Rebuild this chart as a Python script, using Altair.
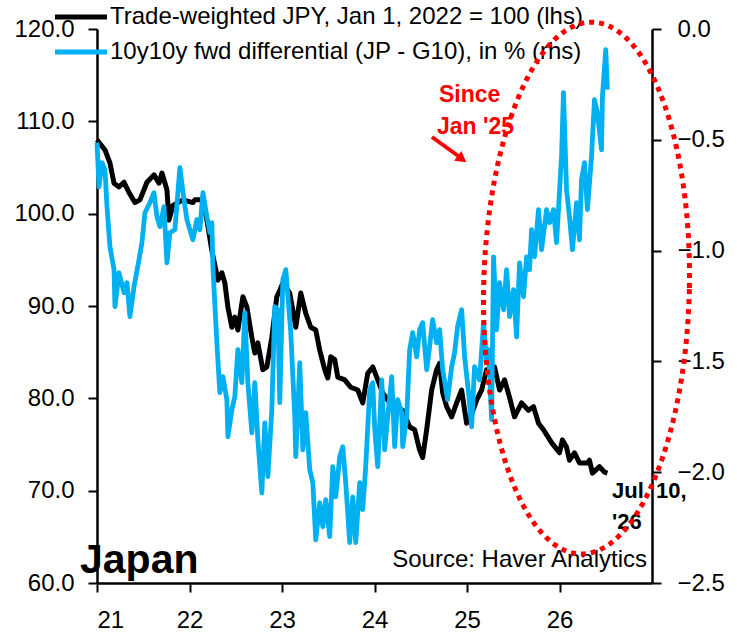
import altair as alt
import numpy as np
import pandas as pd

# Trade-weighted JPY (Jan 1, 2022 = 100), decimal-year dates
jpy_t = [
    2021.000, 2021.086, 2021.140, 2021.184, 2021.238, 2021.292, 2021.346, 2021.410,
    2021.464, 2021.540, 2021.616, 2021.670, 2021.702, 2021.756, 2021.778, 2021.821,
    2021.929, 2022.037, 2022.058, 2022.145, 2022.188, 2022.242, 2022.307, 2022.350,
    2022.382, 2022.415, 2022.458, 2022.490, 2022.523, 2022.577, 2022.620, 2022.674,
    2022.706, 2022.739, 2022.793, 2022.836, 2022.890, 2022.944, 2022.977, 2023.009,
    2023.084, 2023.149, 2023.203, 2023.257, 2023.311, 2023.365, 2023.408, 2023.462,
    2023.495, 2023.527, 2023.570, 2023.603, 2023.678, 2023.743, 2023.819, 2023.873,
    2023.927, 2023.981, 2024.035, 2024.089, 2024.164, 2024.240, 2024.305, 2024.380,
    2024.434, 2024.488, 2024.521, 2024.564, 2024.618, 2024.672, 2024.704, 2024.737,
    2024.780, 2024.834, 2024.888, 2024.942, 2024.996, 2025.028, 2025.104, 2025.158,
    2025.212, 2025.266, 2025.298, 2025.352, 2025.406, 2025.460, 2025.514, 2025.590,
    2025.665, 2025.719, 2025.773, 2025.827, 2025.914, 2026.000, 2026.032, 2026.076,
    2026.108, 2026.162, 2026.216, 2026.302, 2026.324, 2026.356, 2026.432, 2026.486,
    2026.518,
]
jpy_v = [
    108.0, 106.9, 105.5, 103.3, 102.9, 103.4, 102.3, 101.2,
    101.5, 103.4, 104.2, 103.3, 104.4, 102.6, 99.3, 100.9,
    101.5, 101.2, 101.5, 101.5, 99.3, 96.0, 92.8, 93.6,
    92.5, 89.9, 87.7, 88.8, 87.4, 91.0, 89.9, 86.6,
    84.9, 86.0, 83.1, 83.4, 86.6, 91.0, 91.7, 92.5,
    91.4, 87.7, 91.4, 89.2, 87.7, 87.4, 85.2, 83.1,
    82.2, 84.5, 84.2, 82.3, 82.0, 81.2, 80.9, 79.5,
    82.7, 83.4, 82.0, 80.6, 79.5, 79.1, 78.7, 76.9,
    76.6, 74.4, 73.6, 76.6, 80.9, 83.1, 83.8, 80.6,
    79.1, 78.0, 79.5, 80.9, 77.3, 77.7, 79.8, 80.9,
    83.1, 82.3, 83.4, 80.9, 82.0, 80.1, 78.0, 79.5,
    78.7, 79.1, 77.3, 76.6, 75.2, 74.1, 75.5, 74.7,
    73.3, 74.1, 73.0, 73.0, 73.3, 71.9, 72.6, 72.0,
    71.9,
]

# 10y10y forward differential, JP minus G10, in %
fwd_t = [
    2021.000, 2021.022, 2021.054, 2021.086, 2021.108, 2021.140, 2021.184, 2021.194,
    2021.238, 2021.292, 2021.324, 2021.356, 2021.400, 2021.454, 2021.486, 2021.518,
    2021.572, 2021.616, 2021.648, 2021.680, 2021.724, 2021.756, 2021.788, 2021.842,
    2021.896, 2021.940, 2021.972, 2022.004, 2022.037, 2022.080, 2022.112, 2022.145,
    2022.188, 2022.220, 2022.242, 2022.253, 2022.296, 2022.328, 2022.361, 2022.404,
    2022.415, 2022.458, 2022.490, 2022.523, 2022.566, 2022.598, 2022.631, 2022.674,
    2022.706, 2022.739, 2022.782, 2022.814, 2022.847, 2022.890, 2022.922, 2022.955,
    2022.976, 2023.009, 2023.041, 2023.095, 2023.138, 2023.149, 2023.192, 2023.225,
    2023.257, 2023.300, 2023.333, 2023.365, 2023.408, 2023.441, 2023.473, 2023.516,
    2023.549, 2023.581, 2023.624, 2023.657, 2023.689, 2023.732, 2023.765, 2023.797,
    2023.840, 2023.873, 2023.905, 2023.948, 2023.981, 2024.003, 2024.035, 2024.078,
    2024.110, 2024.143, 2024.186, 2024.218, 2024.251, 2024.294, 2024.305, 2024.348,
    2024.380, 2024.413, 2024.456, 2024.488, 2024.521, 2024.564, 2024.596, 2024.628,
    2024.672, 2024.704, 2024.737, 2024.790, 2024.834, 2024.866, 2024.898, 2024.942,
    2024.974, 2025.017, 2025.050, 2025.082, 2025.136, 2025.179, 2025.212, 2025.233,
    2025.266, 2025.287, 2025.320, 2025.352, 2025.395, 2025.428, 2025.460, 2025.503,
    2025.536, 2025.568, 2025.611, 2025.644, 2025.676, 2025.698, 2025.730, 2025.773,
    2025.806, 2025.860, 2025.892, 2025.935, 2025.968, 2026.022, 2026.043, 2026.076,
    2026.108, 2026.140, 2026.184, 2026.216, 2026.238, 2026.270, 2026.302, 2026.346,
    2026.378, 2026.410, 2026.454, 2026.464, 2026.500, 2026.518,
]
fwd_v = [
    -0.513, -0.712, -0.603, -0.635, -0.802, -0.982, -1.086, -1.253,
    -1.100, -1.190, -1.145, -1.298, -1.163, -1.041, -0.964, -0.829,
    -0.784, -0.739, -0.847, -0.892, -0.802, -1.055, -0.919, -0.906,
    -0.626, -0.770, -0.860, -0.906, -0.951, -0.860, -0.906, -0.739,
    -0.847, -0.919, -0.874, -1.073, -1.416, -1.641, -1.569, -1.673,
    -1.840, -1.718, -1.659, -1.447, -1.596, -1.280, -1.596, -1.822,
    -1.596, -1.853, -2.093, -1.777, -2.020, -1.718, -1.253, -1.267,
    -1.686, -1.131, -1.086, -1.370, -1.750, -1.930, -1.506, -1.899,
    -1.731, -1.989, -2.047, -2.305, -2.138, -2.246, -2.124, -2.291,
    -1.975, -2.111, -1.930, -1.885, -2.047, -2.318, -2.111, -2.318,
    -2.047, -2.169, -1.975, -1.628, -1.596, -1.808, -1.975, -1.583,
    -1.899, -1.750, -1.569, -1.885, -1.673, -1.731, -1.885, -1.750,
    -1.447, -1.370, -1.479, -1.357, -1.325, -1.537, -1.433, -1.312,
    -1.416, -1.357, -1.537, -1.673, -1.524, -1.461, -1.343, -1.267,
    -1.479, -1.641, -1.795, -1.524, -1.583, -1.325, -1.506, -1.447,
    -1.763, -1.028, -1.357, -1.145, -1.267, -1.086, -1.298, -1.176,
    -1.389, -1.055, -1.208, -1.028, -1.086, -0.906, -1.028, -0.815,
    -0.996, -0.815, -0.874, -0.815, -0.964, -0.576, -0.287, -0.725,
    -0.847, -0.996, -0.784, -0.951, -0.680, -0.603, -0.815, -0.576,
    -0.319, -0.378, -0.545, -0.306, -0.093, -0.274,
]

x_ticks = [2021, 2022, 2023, 2024, 2025, 2026]
left_ticks = [60, 70, 80, 90, 100, 110, 120]
right_ticks = [-2.5, -2.0, -1.5, -1.0, -0.5, 0.0]
legend_labels = [
    "Trade-weighted JPY, Jan 1, 2022 = 100 (lhs)",
    "10y10y fwd differential (JP - G10), in % (rhs)",
]

FONT = "Liberation Sans"
BLACK = "#000000"
BLUE = "#00B0F0"
RED = "#FF0000"

jpy = pd.DataFrame({"t": jpy_t, "v": jpy_v})
fwd = pd.DataFrame({"t": fwd_t, "v": fwd_v})

x_scale = alt.Scale(domain=[2021, 2027], nice=False, zero=False)
x_axis = alt.Axis(
    values=x_ticks, labelExpr="format(datum.value - 2000, 'd')", title=None,
    grid=False, labelPadding=16,
)
left_scale = alt.Scale(domain=[60, 120], nice=False, zero=False)
right_scale = alt.Scale(domain=[-2.5, 0.0], nice=False, zero=False)
left_axis = alt.Axis(orient="left", values=left_ticks, format=".1f", title=None,
                     grid=False, labelPadding=14)
right_axis = alt.Axis(orient="right", values=right_ticks, format=".1f", title=None,
                      grid=False, labelPadding=16)

jpy_line = alt.Chart(jpy).mark_line(
    color=BLACK, strokeWidth=5, strokeJoin="round", clip=False
).encode(
    x=alt.X("t:Q", scale=x_scale, axis=x_axis),
    y=alt.Y("v:Q", scale=left_scale, axis=left_axis),
)

fwd_line = alt.Chart(fwd).mark_line(
    color=BLUE, strokeWidth=4.8, strokeJoin="round", clip=False
).encode(
    x=alt.X("t:Q", scale=x_scale, axis=x_axis),
    y=alt.Y("v:Q", scale=right_scale, axis=right_axis),
)

# dotted red ellipse highlighting the period since Jan 2025 (rhs units)
theta = np.linspace(0, 2 * np.pi, 361)
ell = pd.DataFrame({
    "t": 2026.292 + 1.112 * np.cos(theta) + 0.054 * np.sin(theta),
    "v": -1.169 + 1.2 * np.sin(theta),
    "i": np.arange(len(theta)),
})
ellipse = alt.Chart(ell).mark_line(
    color=RED, strokeWidth=5, strokeDash=[5, 5], strokeCap="butt", clip=False
).encode(
    x=alt.X("t:Q", scale=x_scale, axis=x_axis),
    y=alt.Y("v:Q", scale=right_scale, axis=right_axis),
    order="i:Q",
)

one = pd.DataFrame({"k": [0]})


def label(text, x, y, size=24, color=BLACK, bold=False, align="left", baseline="middle"):
    return alt.Chart(one).mark_text(
        text=text, font=FONT, fontSize=size, color=color,
        fontWeight="bold" if bold else "normal", align=align, baseline=baseline,
    ).encode(x=alt.value(x), y=alt.value(y))


def seg(x1, x2, y, color, width):
    return alt.Chart(one).mark_rule(color=color, strokeWidth=width).encode(
        x=alt.value(x1), x2=alt.value(x2), y=alt.value(y)
    )


legend = alt.layer(
    seg(-42, 10, -12, BLACK, 5),
    seg(-42, 10, 23, BLUE, 5),
    label(legend_labels[0], 13, -12),
    label(legend_labels[1], 13, 23),
)

notes = alt.layer(
    label("Japan", -17, 544, size=41, bold=True, baseline="alphabetic"),
    label("Source: Haver Analytics", 550, 531, align="right"),
    label("Jul. 10,", 515, 462, size=22, bold=True),
    label("'26", 515, 493, size=22, bold=True),
)

arrow = alt.layer(
    alt.Chart(one).mark_rule(color=RED, strokeWidth=4).encode(
        x=alt.value(335), x2=alt.value(364), y=alt.value(108), y2=alt.value(129)
    ),
    alt.Chart(one).mark_point(
        shape="triangle-right", filled=True, color=RED, size=150, angle=36.6, opacity=1
    ).encode(x=alt.value(365), y=alt.value(130)),
    label("Since", 342, 66, size=23, color=RED, bold=True),
    label("Jan '25", 340, 98, size=23, color=RED, bold=True),
)

left_layer = alt.layer(jpy_line, legend, notes)
right_layer = alt.layer(fwd_line, ellipse, arrow)

chart = alt.layer(left_layer, right_layer).resolve_scale(y="independent").properties(
    width=555, height=554,
    padding={"left": 97, "top": 29, "right": 85, "bottom": 57},
    autosize="none",
    background="white",
).configure_view(stroke=None).configure_axis(
    domainColor=BLACK, domainWidth=2.5, tickColor=BLACK, tickWidth=2, tickSize=9,
    labelFont=FONT, labelFontSize=24, labelColor=BLACK,
)

chart.save("out.html", embed_options={"renderer": "svg", "actions": False})
